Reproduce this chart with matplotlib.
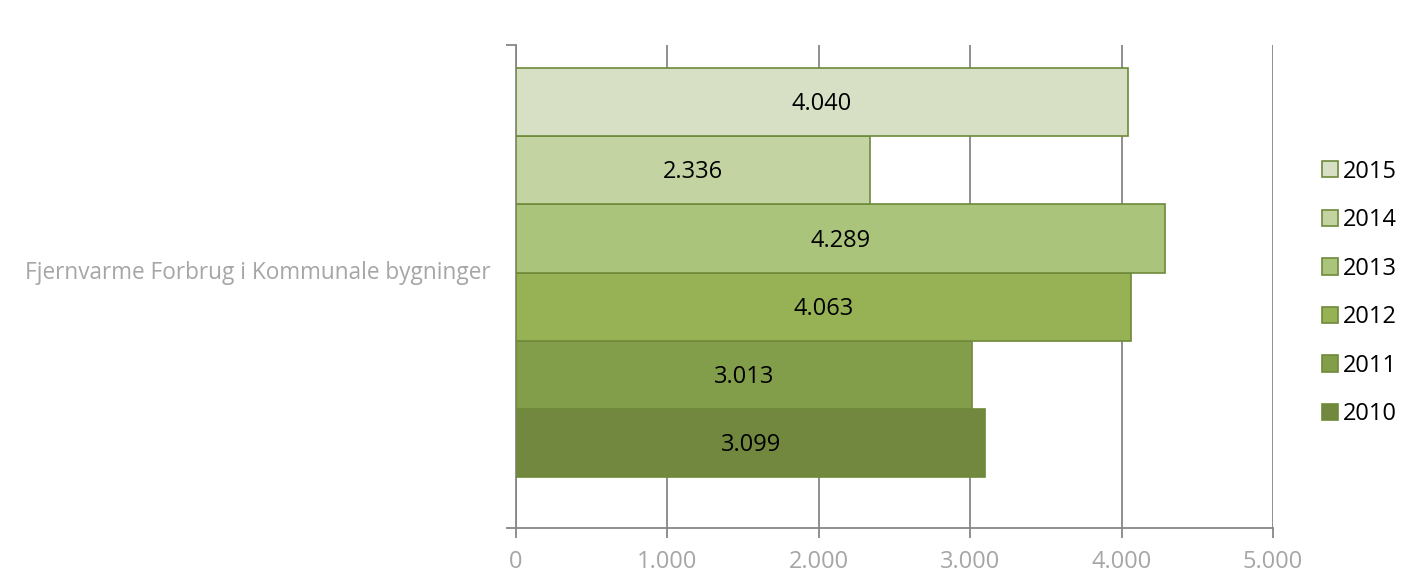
import matplotlib.pyplot as plt
from matplotlib.patches import Patch

plt.rcParams['font.family'] = ['Open Sans', 'DejaVu Sans']

years = ['2010', '2011', '2012', '2013', '2014', '2015']
values = [3099, 3013, 4063, 4289, 2336, 4040]
colors = ['#71883E', '#839E4A', '#97B155', '#ABC47B', '#C3D3A2', '#D7E0C5']
category = 'Fjernvarme Forbrug i Kommunale bygninger'
xticks = [0, 1000, 2000, 3000, 4000, 5000]
xtick_labels = ['0', '1.000', '2.000', '3.000', '4.000', '5.000']

edge = '#6E8A3A'
grid_c = '#878787'
label_c = '#A6A6A6'
fs = 17

fig = plt.figure(figsize=(14.03, 5.75), dpi=100)
ax = fig.add_axes([516 / 1403, 47 / 575, 757 / 1403, 483 / 575])

ypos = list(range(len(years)))
ax.barh(ypos, values, height=1.0, color=colors, edgecolor=edge, linewidth=1.2, zorder=3)

# value labels centred in each bar
for y, v in zip(ypos, values):
    ax.text(v / 2, y - 0.03, f'{v:,}'.replace(',', '.'), ha='center', va='center',
            fontsize=fs, color='black', zorder=4)

ax.set_xlim(0, 5000)
ax.set_ylim(-1.25, 5.84)
ax.set_xticks(xticks)
ax.set_xticklabels(xtick_labels, color=label_c, fontsize=fs)
ax.xaxis.grid(True, color=grid_c, linewidth=1.3, zorder=0)
ax.tick_params(axis='x', length=7, width=1.3, color=grid_c, pad=9)

ax.set_yticks([-1.25, 5.84])
ax.set_yticklabels([])
ax.tick_params(axis='y', length=7, width=1.3, color=grid_c)
ax.text(-0.034, 2.5, category, transform=ax.get_yaxis_transform(),
        ha='right', va='center', fontsize=16.3, color=label_c)

for side in ['top', 'right']:
    ax.spines[side].set_visible(False)
for side in ['left', 'bottom']:
    ax.spines[side].set_color(grid_c)
    ax.spines[side].set_linewidth(1.3)

handles = [Patch(facecolor=c, edgecolor=edge, linewidth=1.2) for c in colors]
fig.legend(handles[::-1], years[::-1], loc='center left',
           bbox_to_anchor=(1322 / 1403, 1 - 293 / 575), frameon=False,
           fontsize=fs, handlelength=0.68, handleheight=0.68, handletextpad=0.2,
           labelspacing=1.04, borderaxespad=0, borderpad=0)

fig.savefig('out.png', dpi=100)
